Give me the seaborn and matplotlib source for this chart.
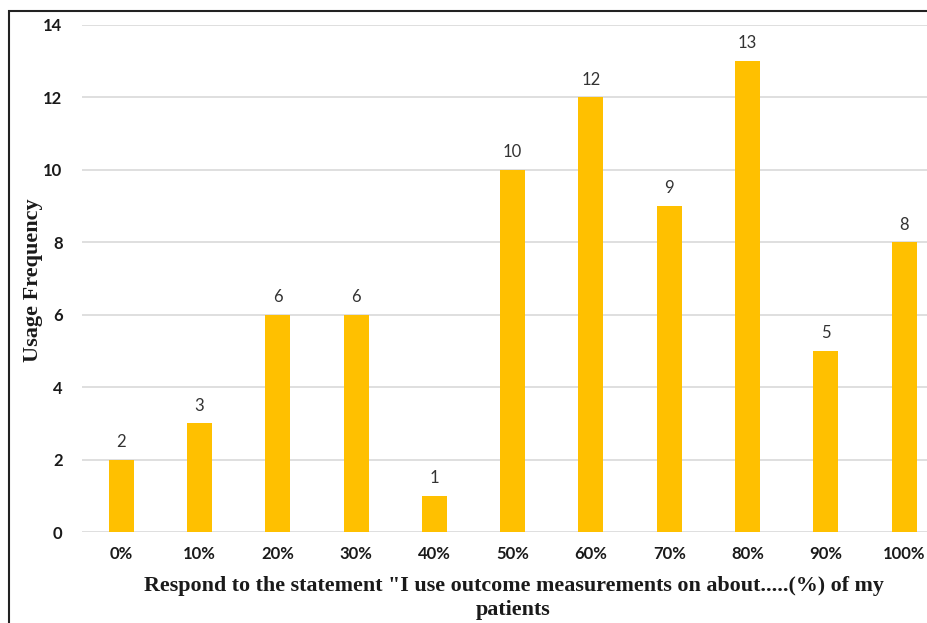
import matplotlib
matplotlib.use("Agg")
import matplotlib.pyplot as plt
import seaborn as sns
import pandas as pd
from matplotlib.patches import Rectangle

categories = ["0%", "10%", "20%", "30%", "40%", "50%", "60%", "70%", "80%", "90%", "100%"]
counts = [2, 3, 6, 6, 1, 10, 12, 9, 13, 5, 8]
yticks = [0, 2, 4, 6, 8, 10, 12, 14]

df = pd.DataFrame({"share": categories, "count": counts})

sns.set_theme(style="white")
plt.rcParams["font.family"] = ["Lato", "DejaVu Sans"]

fig = plt.figure(figsize=(9.27, 6.23), dpi=100)
ax = fig.add_axes([0.0885, 0.146, 0.929, 0.814])

sns.barplot(data=df, x="share", y="count", color="#FFC000", width=0.32,
            saturation=1, linewidth=0, edgecolor="none", ax=ax, zorder=3)

ax.set_ylim(0, 14)
ax.set_xlim(-0.5, len(categories) - 0.5)
ax.set_yticks(yticks)
ax.yaxis.grid(True, color="#d9d9d9", linewidth=1.2, zorder=0)
ax.set_axisbelow(True)
for s in ax.spines.values():
    s.set_visible(False)
ax.tick_params(axis="both", length=0, labelsize=12, colors="#1a1a1a")
ax.tick_params(axis="y", pad=14)
ax.tick_params(axis="x", pad=10)
for lab in ax.get_xticklabels() + ax.get_yticklabels():
    lab.set_fontweight("bold")

for cont in ax.containers:
    ax.bar_label(cont, labels=[str(v) for v in counts], padding=7,
                 fontsize=12, color="#333333")

ax.set_ylabel("")
ax.set_xlabel("")
fig.text(33 / 927, 1 - 280 / 623, "Usage Frequency", rotation=90,
         ha="center", va="center", family="Liberation Serif", fontweight="bold",
         fontsize=16, color="#1a1a1a")
fig.text(0.554, 1 - 598 / 623,
         "Respond to the statement \"I use outcome measurements on about.....(%) of my\npatients",
         ha="center", va="center", family="Liberation Serif", fontweight="bold",
         fontsize=15.8, color="#1a1a1a", linespacing=1.2)

# frame around the figure
fig.patches.append(Rectangle((9 / 927, -0.1), 1.2, 1 - 11 / 623 + 0.1,
                             transform=fig.transFigure, fill=False,
                             edgecolor="#222222", linewidth=1.5))

fig.savefig("out.png", dpi=100)
